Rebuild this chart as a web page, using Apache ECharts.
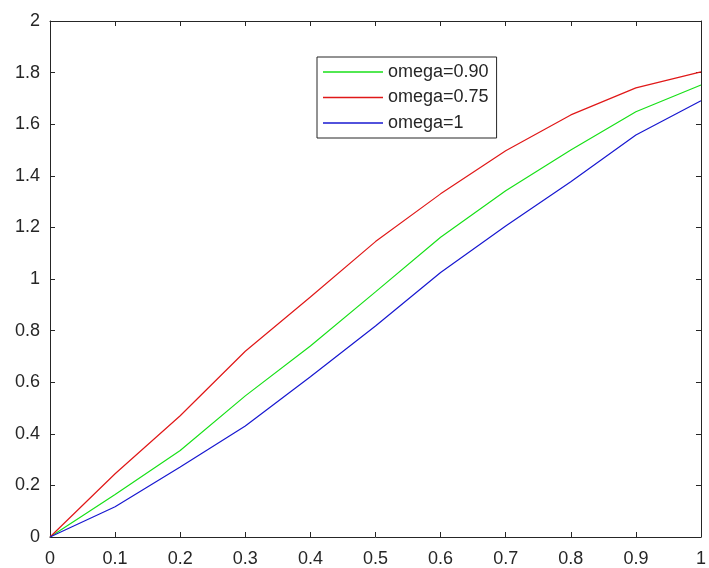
<!DOCTYPE html>
<html><head><meta charset="utf-8">
<script src="https://cdn.jsdelivr.net/npm/echarts@6/dist/echarts.min.js"></script>
<style>html,body{margin:0;padding:0;background:#fff}#c{width:709px;height:568px}</style>
</head><body><div id="c"></div>
<script>
const xValues = [0, 0.1, 0.2, 0.3, 0.4, 0.5, 0.6, 0.7, 0.8, 0.9, 1];
const omega090 = [0, 0.165, 0.335, 0.547, 0.74, 0.95, 1.162, 1.342, 1.50, 1.648, 1.752];
const omega075 = [0, 0.245, 0.47, 0.72, 0.93, 1.145, 1.33, 1.497, 1.636, 1.741, 1.803];
const omega1 = [0, 0.117, 0.271, 0.43, 0.621, 0.818, 1.025, 1.205, 1.377, 1.558, 1.691];
const seriesNames = ['omega=0.90', 'omega=0.75', 'omega=1'];
const seriesColors = ['#18e018', '#e01818', '#1818d0'];

const pair = arr => xValues.map((x, i) => [x, arr[i]]);
const axisCol = '#262626';
const font = 'Liberation Sans, Arial, sans-serif';
const chart = echarts.init(document.getElementById('c'), null, {renderer: 'canvas'});
const baseAxis = {
  axisLine: {show: true, onZero: false, lineStyle: {color: axisCol, width: 1}},
  axisTick: {show: true, inside: true, length: 5, lineStyle: {color: axisCol}},
  splitLine: {show: false}
};
const mkSeries = (i, arr) => ({
  name: seriesNames[i], type: 'line', data: pair(arr), symbol: 'none',
  color: seriesColors[i],
  itemStyle: {color: seriesColors[i]},
  lineStyle: {width: 1.2, color: seriesColors[i]}
});
chart.setOption({
  animation: false,
  backgroundColor: '#fff',
  grid: {left: 50, right: 4, top: 21, bottom: 31, containLabel: false},
  legend: {
    orient: 'vertical', left: 317, top: 57,
    data: seriesNames.map((n, i) => ({name: n, itemStyle: {color: seriesColors[i]}})),
    backgroundColor: '#fff', borderColor: axisCol, borderWidth: 1,
    padding: [6, 8, 6, 6], itemGap: 7.5, itemWidth: 60, itemHeight: 1.5,
    icon: 'rect',
    textStyle: {fontFamily: font, fontSize: 18, color: '#262626', lineHeight: 18, padding: [0, 0, 0, 0]}
  },
  xAxis: [
    Object.assign({type: 'value', min: 0, max: 1, interval: 0.1, position: 'bottom',
      axisLabel: {fontFamily: font, fontSize: 18, color: '#262626', margin: 13}}, baseAxis),
    Object.assign({type: 'value', min: 0, max: 1, interval: 0.1, position: 'top',
      axisLabel: {show: false}}, baseAxis)
  ],
  yAxis: [
    Object.assign({type: 'value', min: 0, max: 2, interval: 0.2, position: 'left',
      axisLabel: {fontFamily: font, fontSize: 18, color: '#262626', margin: 10, padding: [4, 0, 0, 0]}}, baseAxis),
    Object.assign({type: 'value', min: 0, max: 2, interval: 0.2, position: 'right',
      axisLabel: {show: false}}, baseAxis)
  ],
  series: [mkSeries(0, omega090), mkSeries(1, omega075), mkSeries(2, omega1)]
});
</script></body></html>
